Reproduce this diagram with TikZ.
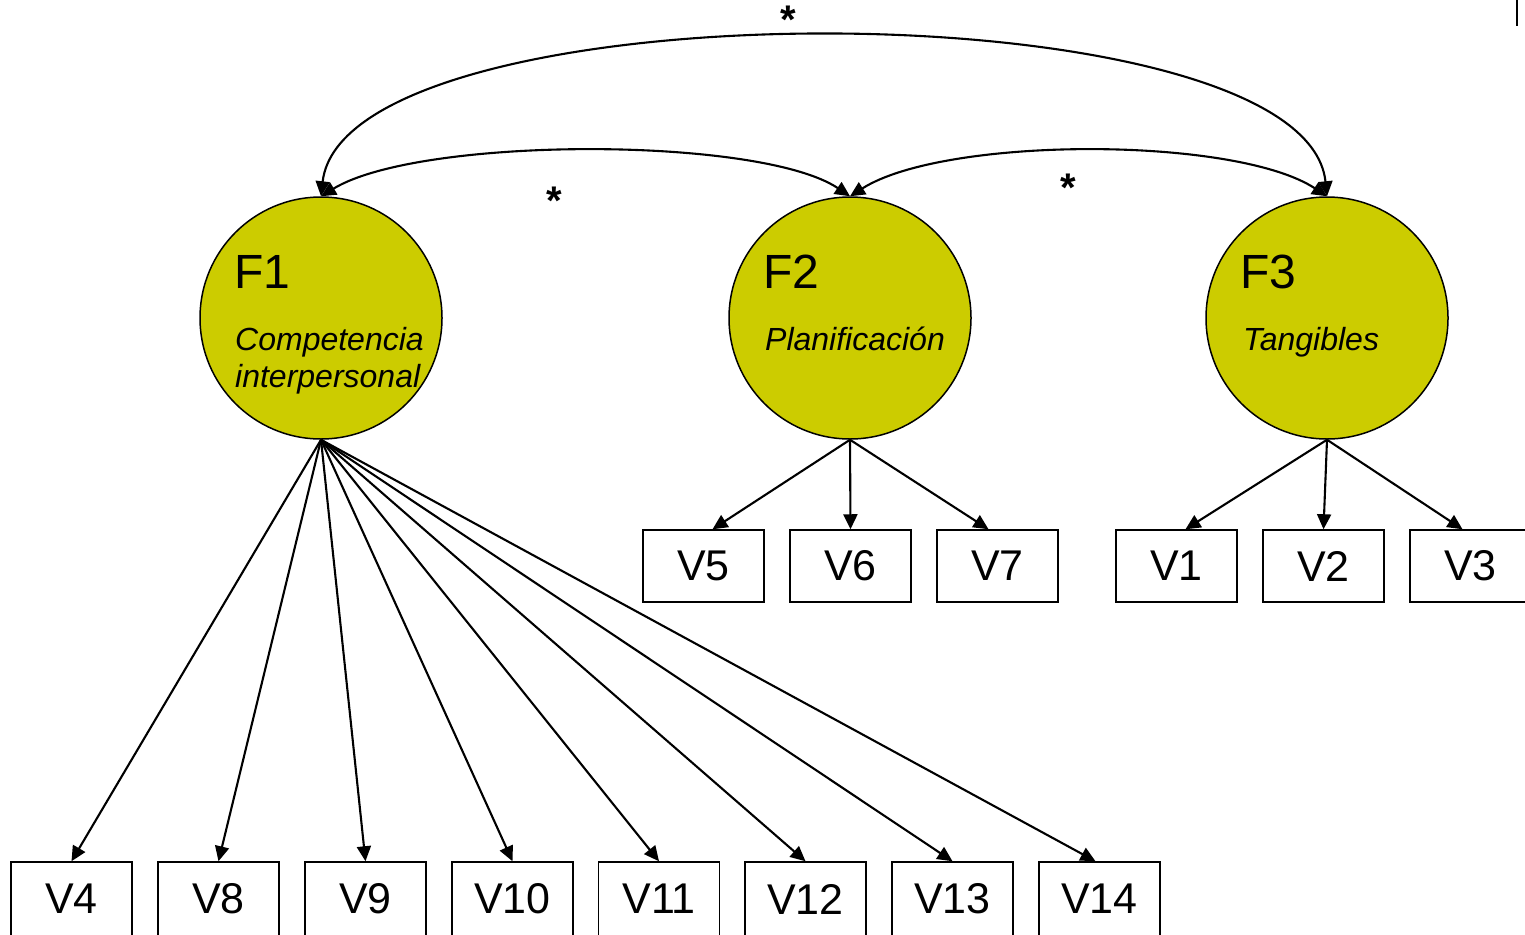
\documentclass[tikz,border=0pt]{standalone}
\usepackage{fontspec}
\setmainfont{Liberation Sans}
\usetikzlibrary{arrows.meta}
\definecolor{factor}{HTML}{CCCC00}
\tikzset{
  factorc/.style={circle, draw=black, line width=1.5pt, fill=factor, minimum size=242pt, inner sep=0pt},
  varbox/.style={rectangle, draw=black, line width=1.5pt, fill=white, minimum width=121pt, minimum height=72pt, inner sep=0pt, font=\fontsize{43}{43}\selectfont},
  flabel/.style={anchor=base west, inner sep=0pt, font=\fontsize{48}{48}\selectfont},
  fname/.style={anchor=base west, inner sep=0pt, font=\fontsize{32}{32}\selectfont\itshape},
  star/.style={inner sep=0pt, font=\fontsize{40}{40}\selectfont\bfseries},
  load/.style={line width=2.1pt, -{Triangle[length=15pt,width=14pt]}},
  cov/.style={line width=2.1pt, {Triangle[length=15pt,width=14pt]}-{Triangle[length=15pt,width=14pt]}}
}
\begin{document}
\begin{tikzpicture}[x=1pt,y=-1pt]
\useasboundingbox (0,0) rectangle (1525,934);
% factors
\node[factorc] (f1) at (321,318) {};
\node[factorc] (f2) at (850,318) {};
\node[factorc] (f3) at (1327,318) {};
\node[flabel] (f1l) at (234,288) {F1};
\node[flabel] (f2l) at (763,288) {F2};
\node[flabel] (f3l) at (1240,288) {F3};
\node[fname] (f1n1) at (235,350) {Competencia};
\node[fname] (f1n2) at (235,387) {interpersonal};
\node[fname] (f2n) at (765,350) {Planificación};
\node[fname] (f3n) at (1243,350) {Tangibles};
% top row boxes
\node[varbox] (v5) at (703.5,566) {V5};
\node[varbox] (v6) at (850.5,566) {V6};
\node[varbox] (v7) at (997.5,566) {V7};
\node[varbox] (v1) at (1176.5,566) {V1};
\node[varbox] (v2) at (1323.5,566) {V2};
\node[varbox] (v3) at (1470.5,566) {V3};
% bottom row boxes
\node[varbox, minimum height=74pt] (v4) at (71.5,899) {V4};
\node[varbox, minimum height=74pt] (v8) at (218.5,899) {V8};
\node[varbox, minimum height=74pt] (v9) at (365.5,899) {V9};
\node[varbox, minimum height=74pt] (v10) at (512.5,899) {V10};
\node[varbox, minimum height=74pt] (v11) at (659,899) {V11};
\node[varbox, minimum height=74pt] (v12) at (805.5,899) {V12};
\node[varbox, minimum height=74pt] (v13) at (952.5,899) {V13};
\node[varbox, minimum height=74pt] (v14) at (1099.5,899) {V14};
% loadings F1
\foreach \v in {v4,v8,v9,v10,v11,v12,v13}{
  \draw[load] (f1.south) -- (\v.north);
}
\draw[load] (f1.south) -- ([xshift=-4pt]v14.north);
% loadings F2
\draw[load] (f2.south) -- ([xshift=9pt]v5.north);
\draw[load] (f2.south) -- (v6.north);
\draw[load] (f2.south) -- ([xshift=-9pt]v7.north);
% loadings F3
\draw[load] (f3.south) -- ([xshift=9pt]v1.north);
\draw[load] (f3.south) -- (v2.north);
\draw[load] (f3.south) -- ([xshift=-8pt]v3.north);
% covariances
\draw[cov] (f1.north) .. controls (420,136) and (760,136) .. (f2.north);
\draw[cov] (f2.north) .. controls (945,136) and (1235,136) .. (f3.north);
\draw[cov] (f1.north) .. controls (345,-16) and (1305,-16) .. (f3.north);
\node[star] (s13) at (788,20) {*};
\node[star] (s12) at (554,201) {*};
\node[star] (s23) at (1068,188) {*};
% stray mark at top right
\draw[line width=1.5pt] (1517,0) -- (1517,26);
\end{tikzpicture}
\end{document}
